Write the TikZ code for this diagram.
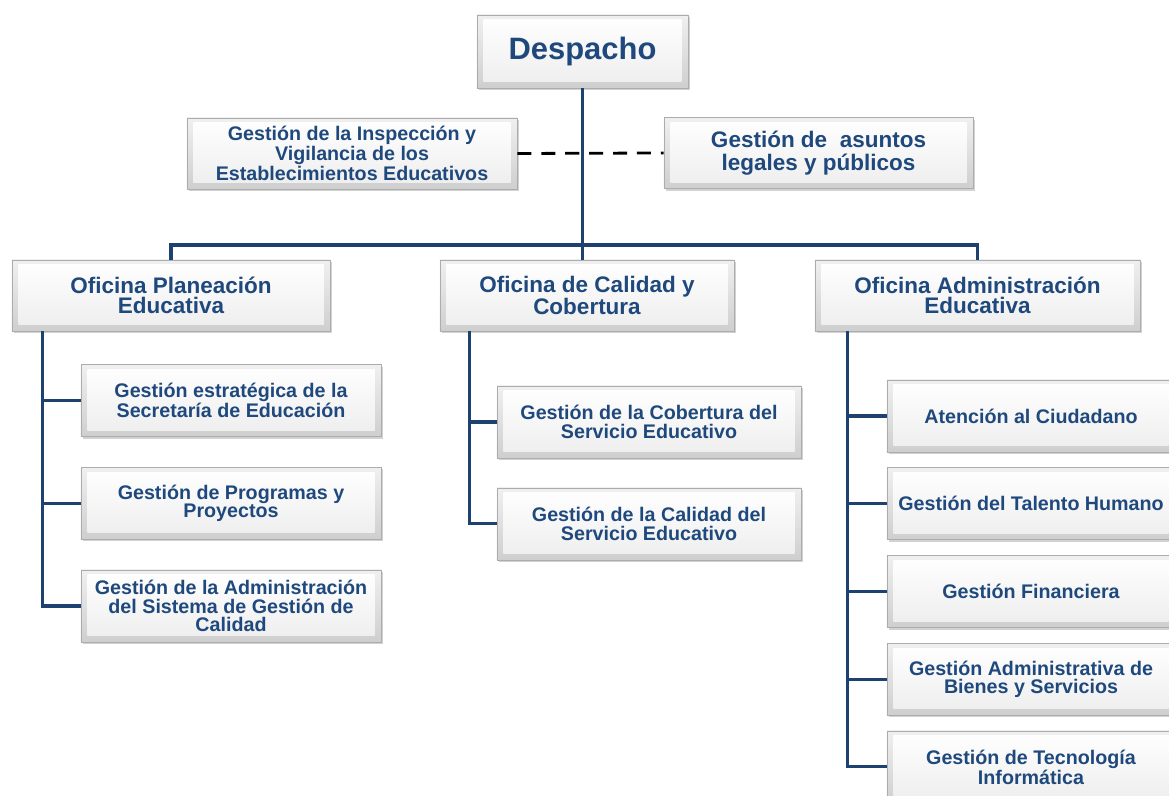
\documentclass[tikz,border=0pt]{standalone}
\usepackage{fontspec}
\setmainfont{Liberation Sans}
\usepackage{tikz}
\usetikzlibrary{positioning,shadows}
\definecolor{orgblue}{RGB}{31,73,125}
\definecolor{orgline}{RGB}{30,66,112}
\begin{document}
\begin{tikzpicture}[
  x=0.025cm, y=-0.025cm,
  orgbox/.style={draw=gray!65, line width=0.5pt, top color=gray!12, bottom color=gray!38,
    drop shadow={shadow xshift=1.2pt, shadow yshift=-1.5pt, opacity=0.35},
    path picture={\shade[top color=white, bottom color=gray!14]
      ([shift={(4.5pt,-3.5pt)}]path picture bounding box.north west) rectangle
      ([shift={(-4.5pt,4.5pt)}]path picture bounding box.south east);},
    align=center, text=orgblue, inner sep=1pt},
  topbox/.style={orgbox, minimum width=5.275cm, minimum height=1.825cm, font=\fontsize{22}{24}\selectfont\bfseries},
  sidebox/.style={orgbox, minimum height=1.775cm, font=\fontsize{14}{14}\selectfont\bfseries},
  officebox/.style={orgbox, minimum height=1.775cm, font=\fontsize{16}{14.5}\selectfont\bfseries},
  subbox/.style={orgbox, minimum height=1.8cm, font=\fontsize{14}{13}\selectfont\bfseries},
  link/.style={draw=orgline, line width=2.2pt},
  dashlink/.style={draw=black, line width=2pt, dash pattern=on 10pt off 7pt}
]
\path[use as bounding box, fill=white] (0,0) rectangle (1169,795);

\node[topbox] (desp) at (582.5,51.5) {Despacho};
\node[sidebox, minimum width=8.25cm] (insp) at (352,153.5) {Gestión de la Inspección y\\Vigilancia de los\\Establecimientos Educativos};
\node[sidebox, minimum width=7.725cm, font=\fontsize{16}{16.5}\selectfont\bfseries] (legal) at (818.5,153) {Gestión de\ \ asuntos\\legales y públicos};

\node[officebox, minimum width=7.95cm] (ofplan) at (171,295.5) {Oficina Planeación\\Educativa};
\node[officebox, minimum width=7.35cm] (ofcal) at (587,295.5) {Oficina de Calidad y\\Cobertura};
\node[officebox, minimum width=8.125cm] (ofadm) at (977.5,295.5) {Oficina Administración\\Educativa};

% planeacion
\node[subbox, minimum width=7.5cm] (plan1) at (231,400.5) {Gestión estratégica de la\\Secretaría de Educación};
\node[subbox, minimum width=7.5cm, below=0.75cm of plan1] (plan2) {Gestión de Programas y\\Proyectos};
\node[subbox, minimum width=7.5cm, below=0.75cm of plan2] (plan3) {Gestión de la Administración\\del Sistema de Gestión de\\Calidad};

% calidad
\node[subbox, minimum width=7.6cm] (cal1) at (649,422) {Gestión de la Cobertura del\\Servicio Educativo};
\node[subbox, minimum width=7.6cm, below=0.73cm of cal1] (cal2) {Gestión de la Calidad del\\Servicio Educativo};

% administracion
\node[subbox, minimum width=7.2cm] (adm1) at (1031,416) {Atención al Ciudadano};
\node[subbox, minimum width=7.2cm, below=0.375cm of adm1] (adm2) {Gestión del Talento Humano};
\node[subbox, minimum width=7.2cm, below=0.375cm of adm2] (adm3) {Gestión Financiera};
\node[subbox, minimum width=7.2cm, below=0.375cm of adm3] (adm4) {Gestión Administrativa de\\Bienes y Servicios};
\node[subbox, minimum width=7.2cm, below=0.375cm of adm4] (adm5) {Gestión de Tecnología\\Informática};

\coordinate (bus) at (0,245);
\coordinate (plspine) at ([xshift=0.775cm]ofplan.south west);
\coordinate (calspine) at ([xshift=0.75cm]ofcal.south west);
\coordinate (admspine) at ([xshift=0.825cm]ofadm.south west);

\draw[dashlink] (insp.east) -- (legal.west);
\draw[link] (desp.south) -- (desp.south |- ofcal.north);
\draw[link] (ofplan.north) -- (ofplan.north |- bus) -- (ofadm.north |- bus) -- (ofadm.north);

\draw[link] (plspine) |- (plan3.west);
\foreach \n in {plan1,plan2}
  \draw[link] (plspine |- \n.west) -- (\n.west);
\draw[link] (calspine) |- (cal2.west);
\draw[link] (calspine |- cal1.west) -- (cal1.west);
\draw[link] (admspine) |- (adm5.west);
\foreach \n in {adm1,adm2,adm3,adm4}
  \draw[link] (admspine |- \n.west) -- (\n.west);
\end{tikzpicture}
\end{document}
